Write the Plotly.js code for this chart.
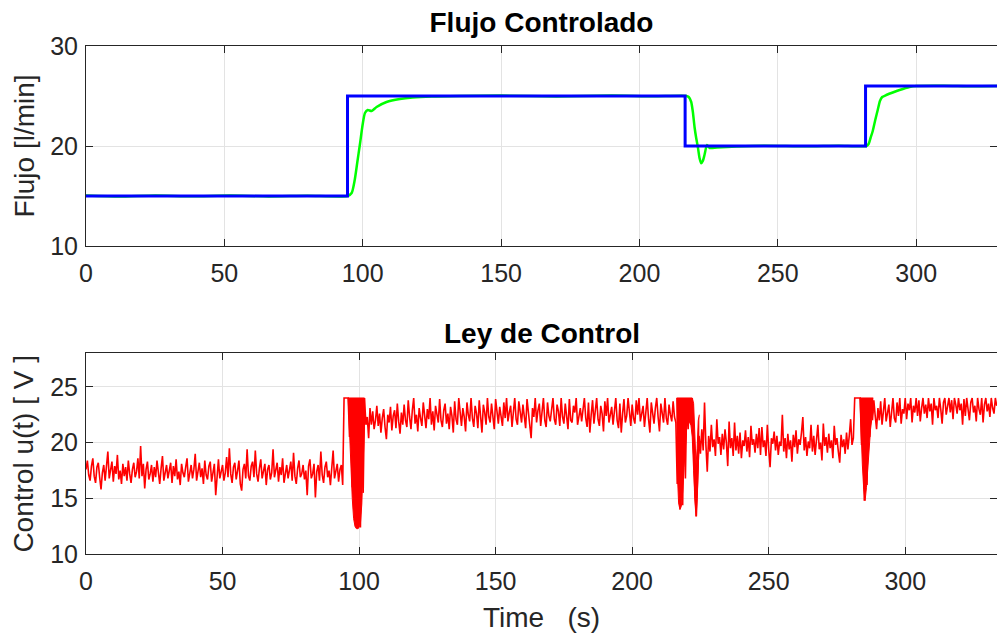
<!DOCTYPE html>
<html><head><meta charset="utf-8">
<script src="https://cdn.plot.ly/plotly-3.0.1.min.js"></script>
<style>html,body{margin:0;padding:0;background:#fff}</style>
</head><body><div id="chart" style="width:997px;height:635px"></div>
<script>
// ---------- Top panel: flow ----------
const tRef = [0, 94.5, 216.5, 281.7, 330];
const flowRef = [15, 25, 20, 26, 26];

const tFlow = [0,12,25,38,52,66,80,
  94.5,96,97.1,98,99,100,100.8,101.8,103.2,105,108.6,113.4,118,125,135,150,170,190,205,
  216.9,217.8,218.7,219.3,219.9,220.5,221.1,221.7,222.3,222.9,223.5,224.4,225.4,228,235,245,260,272,
  282.0,282.8,283.5,284.3,285.2,286.1,286.9,287.7,289.2,292,294,297.6,300,310,320,330];
const flow = [15.05,14.95,15.05,14.97,15.04,14.96,15.03,
  15.0,15.3,16.6,18.3,20.2,22.2,23.3,23.6,23.5,23.9,24.4,24.7,24.85,24.95,25.0,25.04,24.96,25.04,24.97,
  25.0,24.9,24.4,23.4,21.9,20.8,19.9,18.8,18.27,18.5,19.1,20.1,19.8,19.85,19.95,20.03,19.97,20.03,
  20.0,20.2,20.8,21.5,22.6,23.6,24.5,24.9,25.1,25.4,25.6,25.9,26.0,26.03,25.97,26.0];

// ---------- Bottom panel: control signal, sampled every 0.5 s from t = 0 ----------
const uStart = 0;
const uStep = 0.5;
// t = 0 ... 94
const uSeg1 = [
 17.6,18.4,17.1,16.6,17.9,18.6,17.0,16.4,17.8,18.2,16.9,15.8,17.3,18.0,16.6,17.7,19.2,16.8,17.4,18.3,
 16.5,17.9,17.2,18.9,16.7,17.5,16.3,18.1,17.0,17.8,16.6,18.4,17.2,16.4,17.6,18.2,16.9,17.4,18.6,16.8,
 19.7,17.0,18.1,15.9,17.6,18.3,16.7,17.2,18.0,16.5,17.8,16.9,18.4,17.1,16.3,17.7,18.8,16.6,17.3,18.0,
 16.8,17.5,18.2,16.4,17.9,17.0,18.5,16.7,17.4,16.2,18.1,17.3,16.9,17.8,18.6,16.5,17.2,18.0,16.8,17.6,
 19.0,16.6,17.4,18.2,16.9,17.7,16.3,18.4,17.1,16.7,17.9,18.3,16.5,17.4,18.1,15.3,17.0,18.5,16.8,17.6,
 18.0,16.6,17.3,18.7,16.9,19.5,17.2,16.4,17.8,18.2,16.7,17.5,18.4,16.3,15.7,17.6,18.1,16.8,19.4,17.0,
 16.6,17.9,18.3,16.9,19.3,17.2,16.5,17.7,18.5,16.8,17.4,18.1,16.2,17.6,18.0,16.7,17.3,19.4,16.9,17.5,
 18.2,16.5,17.8,17.1,18.6,16.4,17.3,18.0,16.8,17.6,18.3,16.6,19.1,17.0,16.3,17.7,18.4,16.9,17.2,18.0,
 16.7,17.5,15.3,17.9,18.5,16.8,17.2,18.1,15.1,17.4,18.0,16.6,19.2,17.1,16.4,17.8,18.3,16.9,17.5,16.2,
 17.7,19.3,16.8,17.4,18.1,16.5,17.6,18.0,16.2];
// t = 94.5 ... 102.5 (saturation and first burst)
const uSeg2 = [24,24,24,24,
 20.5,24,16.0,24,13.0,24,12.3,24,12.4,24,15.5,24,21.6];
// t = 103 ... 216
const uSeg3 = [
 22.3,20.4,23.1,21.6,22.8,21.2,22.0,23.3,21.5,22.6,20.9,22.2,23.0,21.4,20.3,22.5,21.8,23.2,21.1,22.4,
 22.9,21.3,23.5,21.9,20.8,22.7,21.6,23.4,22.0,21.4,23.8,22.3,21.2,22.9,24.0,21.7,22.5,21.0,23.1,22.2,
 21.5,23.6,22.4,21.3,23.0,22.1,24.0,21.6,22.8,21.1,23.3,22.5,21.8,23.9,22.0,21.4,22.9,23.5,21.7,22.6,
 21.2,23.2,22.4,20.9,23.7,22.1,21.6,24.0,22.7,21.5,23.1,22.3,21.0,23.6,22.5,21.9,24.0,22.2,21.4,23.3,
 22.6,21.3,23.8,22.0,20.9,23.4,22.7,21.6,24.0,22.3,21.8,23.5,22.1,21.2,23.9,22.8,21.7,23.2,22.4,21.5,
 23.6,22.2,24.0,21.9,22.7,23.3,21.4,22.9,24.0,22.1,21.6,23.7,22.5,21.8,23.4,22.0,21.3,23.9,22.6,21.7,
 20.4,23.1,22.3,24.0,21.8,22.9,23.5,21.5,22.7,24.0,22.0,21.4,23.6,22.4,21.9,23.2,24.0,22.1,21.6,23.4,
 22.8,21.5,24.0,22.3,21.7,23.5,22.6,21.2,23.9,22.0,21.8,23.3,22.7,24.0,21.6,22.4,23.1,21.9,22.8,24.0,
 22.2,21.4,23.6,20.9,22.5,23.8,21.7,22.9,24.0,22.1,21.5,23.3,22.6,21.0,23.7,22.4,24.0,21.8,22.7,23.2,
 21.6,22.8,24.0,22.0,21.3,23.5,20.9,22.6,23.9,21.8,22.4,24.0,22.9,21.5,23.4,22.2,21.7,23.8,22.5,24.0,
 21.9,22.7,23.3,21.4,22.9,24.0,22.1,20.9,23.6,22.4,21.7,23.1,24.0,22.3,21.0,23.5,22.6,21.8,24.0,22.2,
 21.6,23.4,22.5,21.9,23.7,22.3,21.8];
// t = 216.5 ... 227 (second burst)
const uSeg4 = [16.3,24,14.1,24,14.4,24,16.8,24,21.2,24,21.6,24,18.8,15.0,13.4,16.6,20.6,19.0,21.2,19.3,23.6,19.8];
// t = 227.5 ... 281
const uSeg5 = [
 17.4,20.6,19.2,21.6,19.6,20.3,18.8,22.1,19.9,20.5,18.9,20.8,19.4,21.2,20.0,17.9,21.9,19.5,20.4,18.8,
 21.8,19.3,20.6,19.0,20.9,18.6,20.2,19.7,21.1,19.2,20.5,18.7,21.5,19.8,20.3,19.1,20.8,19.5,21.3,18.9,
 21.4,19.6,20.2,18.8,21.6,19.4,17.8,20.4,19.9,21.0,19.3,20.6,18.9,20.1,19.7,22.5,19.2,20.4,18.6,20.8,
 19.4,20.2,18.3,20.7,19.6,21.1,19.0,20.3,19.8,20.9,22.3,19.3,20.5,18.8,20.1,19.5,21.6,19.2,20.6,18.9,
 20.3,21.6,19.4,20.0,18.4,21.7,19.7,20.5,19.1,20.8,19.5,20.2,18.6,21.5,19.8,20.4,19.2,18.2,20.7,19.6,
 20.3,19.0,20.9,19.4,20.6,22.1,19.8,20.4];
// t = 281.5 ... 289 (saturation and third burst)
const uSeg6 = [24,24,24,24,24,19.8,24,14.8,24,16.2,24,20.5,24,22.0,23.8,22.4];
// t = 289.5 ... 333.5
const uSeg7 = [
 21.2,23.1,22.0,23.7,21.6,22.8,24.0,21.9,22.5,23.4,21.4,22.9,24.0,22.2,21.8,23.6,22.4,24.0,21.7,23.0,
 22.6,24.0,22.1,23.5,22.9,24.0,21.8,23.3,22.7,24.0,22.4,23.8,21.9,23.1,24.0,22.6,23.4,22.2,24.0,22.8,
 23.5,21.6,24.0,22.9,23.3,22.2,24.0,23.0,21.7,23.6,24.0,22.5,23.2,24.0,22.7,23.8,22.1,24.0,23.4,22.6,
 24.0,22.9,23.5,21.6,23.9,22.4,24.0,23.1,22.0,23.6,24.0,22.7,23.3,21.9,24.0,23.0,22.5,24.0,21.8,23.4,
 24.0,22.8,23.5,22.3,24.0,23.1,22.6,24.0,23.3];
const uControl = [].concat(uSeg1, uSeg2, uSeg3, uSeg4, uSeg5, uSeg6, uSeg7);

// envelopes of the fast chattering bursts (min / max of u within each burst)
const tBurst1 = [96.0, 96.5, 97.0, 97.5, 98.0, 98.5, 99.0, 99.5, 100.0, 100.5, 101.0, 101.5, 102.0];
const uBurst1Low = [24, 20.5, 17.5, 15.0, 13.2, 12.5, 12.3, 12.3, 12.4, 12.8, 14.5, 18.0, 21.8];
const uBurst1High = [24, 24, 24, 24, 24, 24, 24, 24, 24, 24, 24, 24, 24];
const tBurst2 = [216.3, 216.6, 217.0, 217.5, 218.0, 218.5, 219.0, 219.5, 220.0, 220.5, 221.0, 221.5, 222.0, 222.5, 223.0, 223.4, 223.8, 224.2, 224.6];
const uBurst2Low = [24, 17.0, 14.6, 14.0, 14.3, 15.6, 17.8, 20.0, 21.4, 21.8, 21.8, 21.6, 20.5, 17.5, 14.5, 13.4, 15.0, 18.5, 20.5];
const uBurst2High = [24, 24, 24, 24, 24, 24, 24, 24, 24, 24, 24, 24, 24, 23.5, 21.0, 18.0, 19.5, 22.0, 22.5];
const tBurst3 = [283.4, 283.8, 284.3, 284.8, 285.3, 285.8, 286.3, 286.8, 287.3, 287.8, 288.3];
const uBurst3Low = [24, 20.5, 18.0, 15.8, 14.8, 16.0, 17.8, 19.8, 21.2, 22.2, 22.8];
const uBurst3High = [24, 24, 24, 24, 24, 24, 24, 24, 24, 24, 24];

// tick values
const xTicks = [0, 50, 100, 150, 200, 250, 300];
const yTicksTop = [10, 20, 30];
const yTicksBottom = [10, 15, 20, 25];

const FONT = 'Liberation Sans, Arial, Helvetica, sans-serif';
const AX = '#262626';
const RED = '#ff0000';

function band(t, lo, hi) {
  return [
    {x: t, y: lo, type: 'scatter', mode: 'lines', xaxis: 'x2', yaxis: 'y2',
     line: {color: RED, width: 1}, hoverinfo: 'skip'},
    {x: t, y: hi, type: 'scatter', mode: 'lines', xaxis: 'x2', yaxis: 'y2', fill: 'tonexty',
     fillcolor: RED, line: {color: RED, width: 1}, hoverinfo: 'skip'}
  ];
}

const traces = [
  {x: tFlow, y: flow, type: 'scatter', mode: 'lines', xaxis: 'x', yaxis: 'y',
   line: {color: '#00ff00', width: 2.5, shape: 'spline', smoothing: 0.6}, name: 'Flujo'},
  {x: tRef, y: flowRef, type: 'scatter', mode: 'lines', xaxis: 'x', yaxis: 'y',
   line: {color: '#0000ff', width: 3, shape: 'hv'}, name: 'Referencia'},
  {x0: uStart, dx: uStep, y: uControl, type: 'scatter', mode: 'lines', xaxis: 'x2', yaxis: 'y2',
   line: {color: RED, width: 1.6}, name: 'u(t)'}
].concat(band(tBurst1, uBurst1Low, uBurst1High),
         band(tBurst2, uBurst2Low, uBurst2High),
         band(tBurst3, uBurst3Low, uBurst3High));

function axisBase(extra) {
  return Object.assign({
    ticks: 'inside', ticklen: 7, tickwidth: 1, tickcolor: AX,
    showline: true, linecolor: AX, linewidth: 1, mirror: 'ticks',
    showgrid: true, gridcolor: '#e3e3e3', gridwidth: 1, zeroline: false,
    tickfont: {family: FONT, size: 25, color: AX}, automargin: false
  }, extra);
}

const layout = {
  width: 997, height: 635,
  margin: {l: 86, r: 0, t: 0, b: 0},
  paper_bgcolor: '#ffffff', plot_bgcolor: '#ffffff',
  showlegend: false,
  font: {family: FONT, color: AX},
  title: {text: '<b>Flujo Controlado</b>', font: {family: FONT, size: 28, color: '#000'},
          xref: 'paper', x: 0.5, xanchor: 'center', yref: 'container', y: 1 - 22/635, yanchor: 'middle'},
  xaxis: axisBase({domain: [0, 1], range: [0, 329.2], tickvals: xTicks, anchor: 'y', ticklabelstandoff: 5}),
  yaxis: axisBase({domain: [1 - 246/635, 1 - 46/635], range: [10, 30], tickvals: yTicksTop, anchor: 'x',
    ticklabelstandoff: 2,
    title: {text: 'Flujo [l/min]', font: {family: FONT, size: 28, color: AX}, standoff: 7}}),
  xaxis2: axisBase({domain: [0, 1], range: [0, 333.6], tickvals: xTicks, anchor: 'y2', ticklabelstandoff: 5,
    title: {text: 'Time\u00a0\u00a0\u00a0(s)', font: {family: FONT, size: 28, color: AX}, standoff: 13}}),
  yaxis2: axisBase({domain: [1 - 554.3/635, 1 - 353.3/635], range: [10, 28], tickvals: yTicksBottom, anchor: 'x2',
    ticklabelstandoff: 2,
    title: {text: 'Control u(t) [ V ]', font: {family: FONT, size: 28, color: AX}, standoff: 8}}),
  annotations: [
    {text: '<b>Ley de Control</b>', xref: 'paper', yref: 'paper', x: 0.5, y: 1 - 333/635,
     xanchor: 'center', yanchor: 'middle', showarrow: false, font: {family: FONT, size: 28, color: '#000'}}
  ]
};

Plotly.newPlot('chart', traces, layout, {displayModeBar: false, staticPlot: true});
</script>
</body></html>
